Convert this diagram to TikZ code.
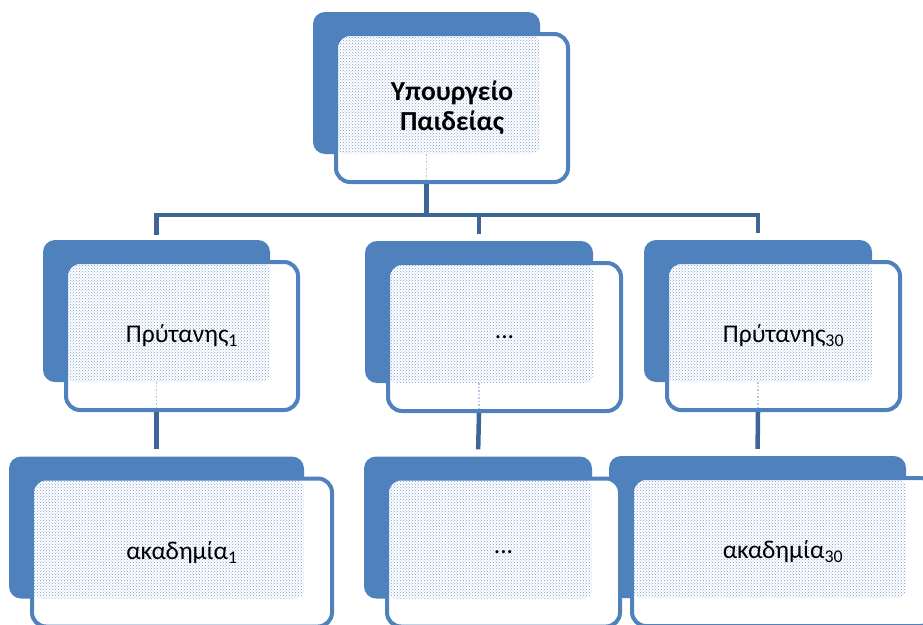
\documentclass[tikz,border=0pt]{standalone}
\usepackage{fontspec}
\setmainfont{Carlito}
\usetikzlibrary{
  patterns,
}
\definecolor{boxblue}{HTML}{4F81BD}
\definecolor{linkblue}{HTML}{3D6596}
\definecolor{dotblue}{HTML}{7E9FD0}

\begin{document}
\begin{tikzpicture}[x=1pt,y=-1pt]%
\tikzstyle{back}=[rectangle,fill=boxblue,rounded corners=12pt,inner sep=0pt,minimum height=142pt]
\tikzstyle{link}=[draw=linkblue,line width=4.5pt]
\tikzstyle{ghost}=[draw=dotblue!60,line width=1.5pt,dotted]
\tikzset{front/.style={rectangle,draw=boxblue,fill=white,line width=4pt,rounded corners=14pt,
  inner sep=0pt,minimum height=148pt,align=center,font=\fontsize{25.5}{30}\selectfont,
  path picture={\fill[pattern=crosshatch dots,pattern color=dotblue,rounded corners=10pt]
    (path picture bounding box.north west) rectangle (#1.south east);}}}
\useasboundingbox (0,0) rectangle (923,624);
\clip (0,0) rectangle (923,624);
% back plates
\node[back,minimum width=227pt] (ypb) at (426.5,83) {};
\node[back,minimum width=227pt] (pr1b) at (156.5,311) {};
\node[back,minimum width=228pt] (prmb) at (479,312) {};
\node[back,minimum width=228pt] (pr30b) at (758,311) {};
\node[back,minimum width=295pt] (ak1b) at (156.5,527.5) {};
\node[back,minimum width=228pt] (akmb) at (478,527.5) {};
\node[back,minimum width=297pt] (ak30b) at (757.5,527) {};
% front plates
\node[front=ypb,minimum width=232pt,font=\fontsize{27.5}{30}\selectfont\bfseries] (yp) at ([shift={(25.5pt,-25pt)}]ypb.center) {Υπουργείο\\Παιδείας};
\node[front=pr1b,minimum width=232pt] (pr1) at ([shift={(25.5pt,-25pt)}]pr1b.center) {Πρύτανης\textsubscript{1}};
\node[front=prmb,minimum width=233pt] (prm) at ([shift={(25.5pt,-25pt)}]prmb.center) {...};
\node[front=pr30b,minimum width=233pt] (pr30) at ([shift={(25.5pt,-25pt)}]pr30b.center) {Πρύτανης\textsubscript{30}};
\node[front=ak1b,minimum width=300pt] (ak1) at ([shift={(25.5pt,-25pt)}]ak1b.center) {ακαδημία\textsubscript{1}};
\node[front=akmb,minimum width=233pt] (akm) at ([shift={(25.5pt,-25pt)}]akmb.center) {...};
\node[front=ak30b,minimum width=302pt] (ak30) at ([shift={(25.5pt,-25pt)}]ak30b.center) {ακαδημία\textsubscript{30}};
% connectors
\coordinate (bus) at (0,215);
\draw[link] (ypb |- yp.south) -- (ypb |- bus);
\draw[link,shorten <=-2pt,shorten >=7pt] (pr1b.north) ++(0,-7) -- (pr1b |- bus) -- (pr30b |- bus) -- (pr30b.north);
\draw[link,shorten >=7pt] (prmb |- bus) -- (prmb.north);
\draw[link,shorten >=7pt] (pr1b |- pr1.south) -- (ak1b.north);
\draw[link,shorten >=7pt] (prmb |- prm.south) -- (akmb.north);
\draw[link,shorten >=7pt] (pr30b |- pr30.south) -- (ak30b.north);
\draw[ghost] (ypb.south) -- ([yshift=3pt]ypb |- yp.south);
\draw[ghost] (pr1b.south) -- ([yshift=3pt]pr1b |- pr1.south);
\draw[ghost] (prmb.south) -- ([yshift=3pt]prmb |- prm.south);
\draw[ghost] (pr30b.south) -- ([yshift=3pt]pr30b |- pr30.south);
\end{tikzpicture}
\end{document}
